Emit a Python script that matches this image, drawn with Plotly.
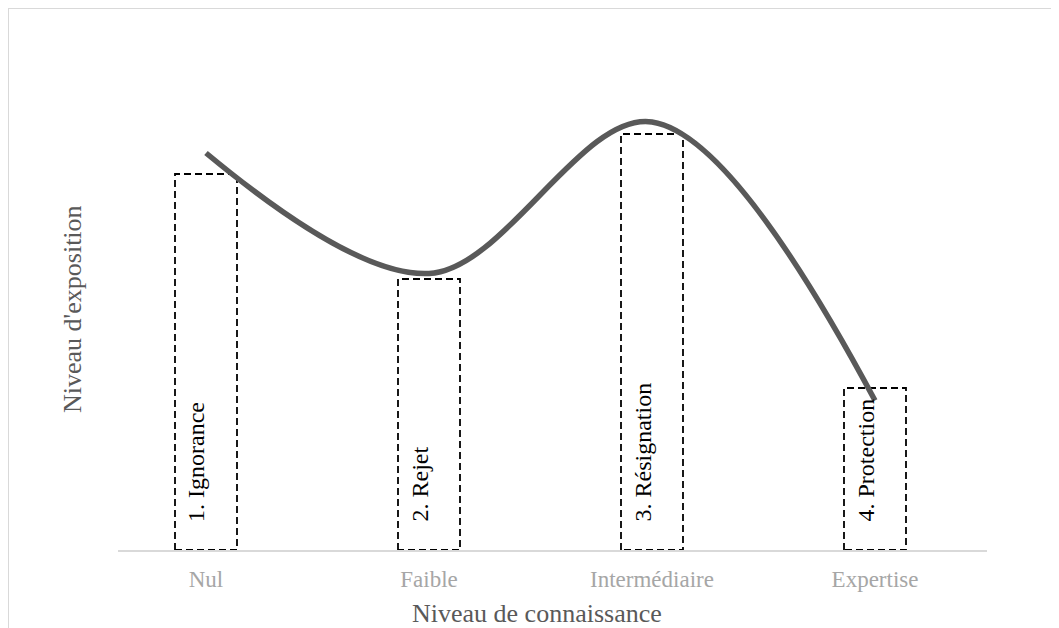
import plotly.graph_objects as go

categories = ["Nul", "Faible", "Intermédiaire", "Expertise"]
bar_values = [7.52, 5.42, 8.32, 3.24]
bar_labels = ["1. Ignorance", "2. Rejet", "3. Résignation", "4. Protection"]
line_values = [7.94, 5.53, 8.56, 2.99]

x_title = "Niveau de connaissance"
y_title = "Niveau d'exposition"

FONT = "Liberation Serif, Times New Roman, serif"
BAR_W = 0.278

fig = go.Figure()
pos = list(range(len(categories)))

# dashed rectangles (bars)
for i, v in zip(pos, bar_values):
    xs = [i - BAR_W / 2, i - BAR_W / 2, i + BAR_W / 2, i + BAR_W / 2, i - BAR_W / 2]
    ys = [0, v, v, 0, 0]
    fig.add_trace(go.Scatter(
        x=xs, y=ys, mode="lines", fill="toself", fillcolor="white",
        line=dict(color="black", width=1.8, dash="7px,4px"),
        hoverinfo="skip", showlegend=False,
    ))

# smooth curve
fig.add_trace(go.Scatter(
    x=pos, y=line_values, mode="lines",
    line=dict(color="#595959", width=5.5, shape="spline", smoothing=1.0),
    showlegend=False,
))

annotations = []
for i, lab in zip(pos, bar_labels):
    annotations.append(dict(
        x=i, y=0, xref="x", yref="y", text=lab, textangle=-90,
        showarrow=False, xanchor="center", yanchor="bottom",
        xshift=-10, yshift=26,
        font=dict(family=FONT, size=24, color="black"),
    ))

# layout in figure pixel coordinates (page is offset by 8px)
W, H = 1059, 628
L, T = 110, 42
X_END, Y_BASE = 979, 542
R, B = W - X_END, H - Y_BASE
pw, ph = W - L - R, H - T - B

def px_x(p):
    return (p - L) / pw

def px_y(p):
    return (H - B - p) / ph

annotations.append(dict(
    x=px_x(529), y=px_y(605), xref="paper", yref="paper", text=x_title,
    showarrow=False, xanchor="center", yanchor="middle",
    font=dict(family=FONT, size=26, color="#595959"),
))
annotations.append(dict(
    x=px_x(64), y=px_y(301), xref="paper", yref="paper", text=y_title,
    textangle=-90, showarrow=False, xanchor="center", yanchor="middle",
    font=dict(family=FONT, size=26, color="#595959"),
))

cat_px = 223.0
first_px = 198.0
fig.update_layout(
    width=W, height=H,
    margin=dict(l=L, r=R, t=T, b=B),
    paper_bgcolor="white", plot_bgcolor="white",
    xaxis=dict(
        range=[(L - first_px) / cat_px, (X_END - first_px) / cat_px],
        tickmode="array", tickvals=pos, ticktext=categories,
        showgrid=False, zeroline=False, showline=True,
        linecolor="#d9d9d9", linewidth=1.5, ticks="",
        tickfont=dict(family=FONT, size=23, color="#a6a6a6"),
        ticklabelstandoff=8,
    ),
    yaxis=dict(
        range=[0, 10], showgrid=False, zeroline=False, showline=False,
        showticklabels=False, ticks="",
    ),
    annotations=annotations,
    shapes=[dict(
        type="rect", xref="paper", yref="paper",
        x0=px_x(0), x1=px_x(1075), y0=px_y(0), y1=px_y(640),
        line=dict(color="#d9d9d9", width=2), fillcolor="rgba(0,0,0,0)",
        layer="below",
    )],
)

fig.write_html("out.html")
